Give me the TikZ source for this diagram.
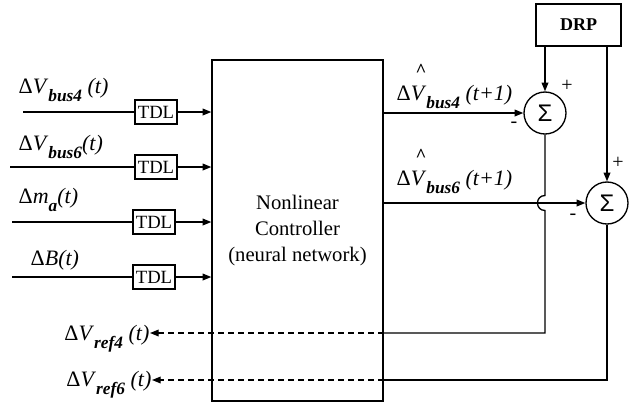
\documentclass[tikz,border=0pt]{standalone}
\usepackage{fontspec}
\setmainfont{Liberation Serif}
\newfontfamily\sigmafont{Liberation Sans}
\usetikzlibrary{arrows.meta,calc}
\newcommand{\subs}[1]{\raisebox{-0.4em}{\fontsize{13}{13}\selectfont\bfseries\textit{#1}}}
\newcommand{\hatV}{\textit{V}\hspace{-4pt}\makebox[0pt]{\raisebox{17.5pt}{\fontsize{14}{14}\selectfont\bfseries\textasciicircum}}\hspace{4pt}}
\begin{document}
\begin{tikzpicture}[x=0.75pt,y=-0.75pt,line width=1pt,
  arr/.style={-{Triangle[length=6.5pt,width=5pt]}},
  tdl/.style={draw,minimum width=31.5pt,minimum height=18pt,inner sep=0pt,font=\fontsize{14}{14}\selectfont},
  sumnode/.style={draw,circle,minimum size=31.5pt,inner sep=0pt,font=\sigmafont\fontsize{18}{18}\selectfont},
  lab/.style={inner sep=0pt,font=\fontsize{16.5}{16.5}\selectfont},
  sgn/.style={inner sep=0pt,font=\fontsize{15}{15}\selectfont},
  dsh/.style={dash pattern=on 4.5pt off 3pt}]
\useasboundingbox (0,0) rectangle (636,405);
% controller
\node[draw,minimum width=128.25pt,minimum height=255.75pt,inner sep=0pt,align=center,
  font=\fontsize{15.5}{19.5}\selectfont] (ctrl) at (297.5,230.5)
  {Nonlinear\\Controller\\(neural network)};
% TDL boxes
\node[tdl] (t1) at (156,112) {TDL};
\node[tdl] (t2) at (156,167) {TDL};
\node[tdl] (t3) at (154,222) {TDL};
\node[tdl] (t4) at (154,277) {TDL};
\coordinate (i1) at (23,112);
\coordinate (i2) at (10,167);
\coordinate (i3) at (12,222);
\coordinate (i4) at (12,277);
\foreach \k in {1,2,3,4}{
  \draw (i\k) -- (t\k.west);
  \draw[arr] (t\k.east) -- (t\k.east -| ctrl.west);
}
% input labels
\node[lab,anchor=base west] (l1) at (18,93) {Δ\textit{V}\subs{bus4}\textit{ (t)}};
\node[lab,anchor=base west] (l2) at (18,150) {Δ\textit{V}\subs{bus6}\textit{(t)}};
\node[lab,anchor=base west] (l3) at (18,203) {Δ\textit{m}\subs{a}\textit{(t)}};
\node[lab,anchor=base west] (l4) at (30,265) {Δ\textit{B(t)}};
% DRP and sums
\node[draw,minimum width=63.75pt,minimum height=31.5pt,inner sep=0pt,
  font=\bfseries\fontsize{13.5}{13.5}\selectfont] (drp) at (578.5,25) {DRP};
\node[sumnode] (s1) at (545,113) {Σ};
\node[sumnode] (s2) at (607,203) {Σ};
\node[sgn] (p1) at (567,86) {+};
\node[sgn] (m1) at (514,125) {-};
\node[sgn] (p2) at (618,163) {+};
\node[sgn] (m2) at (573,217) {-};
\draw[arr] (drp.south -| s1) -- (s1.north);
\draw[arr] (drp.south -| s2) -- (s2.north);
% outputs
\node[lab,anchor=base west] (o1) at (396,100) {Δ\hatV\subs{bus4}\textit{ (t+1)}};
\node[lab,anchor=base west] (o2) at (396,185) {Δ\hatV\subs{bus6}\textit{ (t+1)}};
\draw[arr] (ctrl.east |- s1) -- (s1.west);
\draw[arr] (ctrl.east |- s2) -- (s2.west);
% feedback
\coordinate (c4) at (545,333);
\coordinate (c6) at (607,380);
\node[lab,anchor=base east] (r4) at (150,340) {Δ\textit{V}\subs{ref4}\textit{ (t)}};
\node[lab,anchor=base east] (r6) at (152,386) {Δ\textit{V}\subs{ref6}\textit{ (t)}};
\draw (s1.south) -- ($(s1 |- s2)+(0,-7.5)$) .. controls +(-10,0) and +(-10,0) .. ($(s1 |- s2)+(0,7.5)$) -- (c4) -- (ctrl.east |- c4);
\draw (s2.south) -- (c6) -- (ctrl.east |- c6);
\draw[dsh,arr] (ctrl.east |- c4) -- (r4.east |- c4);
\draw[dsh,arr] (ctrl.east |- c6) -- (r6.east |- c6);
\end{tikzpicture}
\end{document}
